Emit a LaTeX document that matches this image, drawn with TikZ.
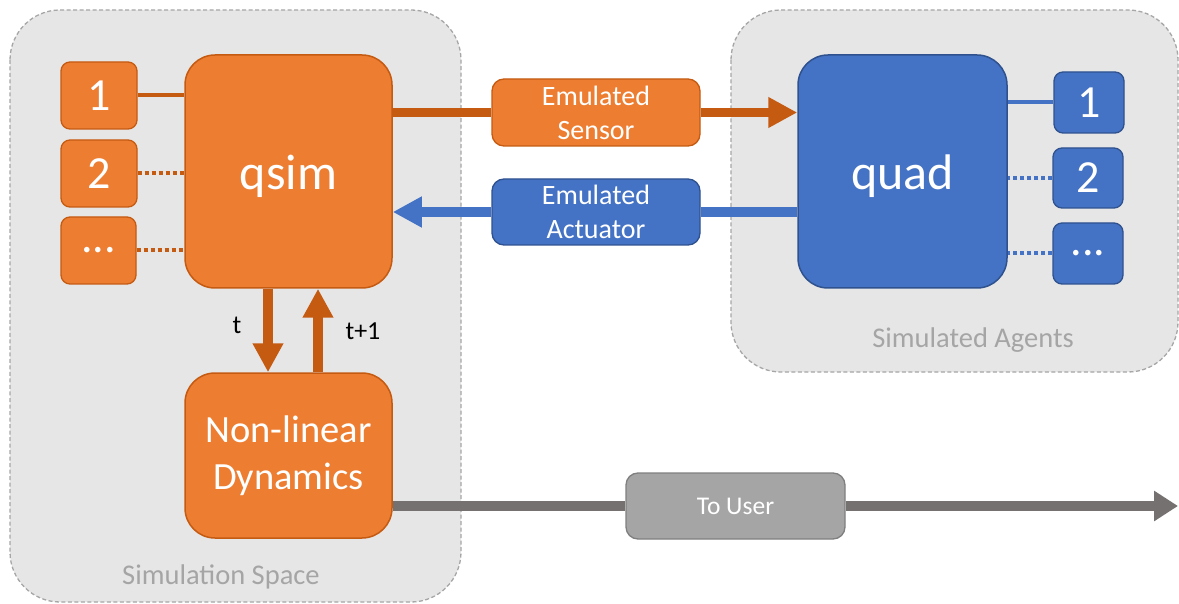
\documentclass[tikz,border=0pt]{standalone}
\usepackage{fontspec}
\setmainfont{Carlito}
\usetikzlibrary{arrows.meta,calc}

\definecolor{orfill}{HTML}{ED7D31}
\definecolor{ordark}{HTML}{C55A11}
\definecolor{blfill}{HTML}{4472C4}
\definecolor{bldark}{HTML}{2F528F}
\definecolor{grpanel}{HTML}{E6E6E6}
\definecolor{grborder}{HTML}{A6A6A6}
\definecolor{grlabel}{HTML}{A5A5A5}
\definecolor{grbox}{HTML}{A5A5A5}
\definecolor{grboxdark}{HTML}{7F7F7F}
\definecolor{grline}{HTML}{767171}

\tikzset{
  panel/.style={fill=grpanel, draw=grborder, line width=1.3pt, dash pattern=on 4pt off 2.5pt, rounded corners=50pt},
  panellabel/.style={text=grlabel, font=\fontsize{28.5}{30}\selectfont},
  bigbox/.style={rectangle, rounded corners=30pt, line width=1.5pt, text=white, font=\fontsize{50}{56}\selectfont},
  orbig/.style={bigbox, fill=orfill, draw=ordark},
  blbig/.style={bigbox, fill=blfill, draw=bldark},
  smallbox/.style={rectangle, rounded corners=9pt, line width=1.3pt, text=white, font=\fontsize{46}{50}\selectfont, inner sep=0pt},
  orsmall/.style={smallbox, fill=orfill, draw=ordark},
  blsmall/.style={smallbox, fill=blfill, draw=bldark},
  midbox/.style={rectangle, rounded corners=12pt, line width=1.3pt, text=white, align=center, inner sep=0pt, font=\fontsize{28}{34}\selectfont},
  ormid/.style={midbox, fill=orfill, draw=ordark},
  blmid/.style={midbox, fill=blfill, draw=bldark},
  grmid/.style={midbox, fill=grbox, draw=grboxdark, font=\fontsize{25.5}{30}\selectfont},
  solidlink/.style={line width=4pt},
  dotlink/.style={line width=4pt, dash pattern=on 4pt off 3pt},
  fatarrow/.style={line width=9.5pt, -{Triangle[length=29pt,width=29pt]}},
  steplabel/.style={text=black, font=\fontsize{26}{30}\selectfont},
}

\begin{document}
\begin{tikzpicture}[x=1pt,y=-1pt]
\useasboundingbox (0,0) rectangle (1179,604);

% containers
\draw[panel] (10,10) rectangle (461,602);
\draw[panel] (731,10) rectangle (1178,372);
\node[panellabel] (simspace) at (221,577) {Simulation Space};
\node[panellabel] (simagents) at (973,340) {Simulated Agents};

% simulator side
\node[orbig, minimum width=207pt, minimum height=233pt, text height=40pt, text depth=3pt] (qsim) at (288.5,171.5) {qsim};
\node[orbig, minimum width=207pt, minimum height=165pt, align=center,
      font=\fontsize{38.5}{47}\selectfont] (nld) at (288.5,455.5) {Non-linear\\Dynamics};
\node[orsmall, minimum width=76pt, minimum height=67pt] (l1) at (99,95.5) {1};
\node[orsmall, minimum width=76pt, minimum height=67pt] (l2) at (99,173.5) {2};
\node[orsmall, minimum width=75pt, minimum height=67pt] (l3) at (98.5,250.5) {...};

% agent side
\node[blbig, minimum width=209pt, minimum height=233pt, text height=40pt, text depth=3pt] (quad) at (902.5,171.5) {quad};
\node[blsmall, minimum width=70pt, minimum height=61pt] (r1) at (1089,102.5) {1};
\node[blsmall, minimum width=70pt, minimum height=60pt] (r2) at (1088,178) {2};
\node[blsmall, minimum width=70pt, minimum height=61pt] (r3) at (1088,253.5) {...};

% exchanged signals
\node[ormid, minimum width=208pt, minimum height=67pt] (sensor) at (596,112.5) {Emulated\\Sensor};
\node[blmid, minimum width=208pt, minimum height=66pt] (actuator) at (596,212) {Emulated\\Actuator};
\node[grmid, minimum width=219pt, minimum height=66pt] (touser) at (735.5,506) {To User};
\coordinate (userend) at (1178,506);

% links to the numbered units
\draw[solidlink, ordark] (l1.east) -- (l1.east -| qsim.west);
\draw[dotlink, ordark] (l2.east) -- (l2.east -| qsim.west);
\draw[dotlink, ordark] (l3.east) -- (l3.east -| qsim.west);
\draw[solidlink, blfill] (r1.west) -- (r1.west -| quad.east);
\draw[dotlink, blfill] (r2.west) -- (r2.west -| quad.east);
\draw[dotlink, blfill] (r3.west) -- (r3.west -| quad.east);

% sensor path
\draw[line width=9.5pt, ordark] (qsim.east |- sensor.west) -- (sensor.west);
\draw[fatarrow, ordark] (sensor.east) -- (sensor.east -| quad.west);

% actuator path
\draw[line width=9.5pt, blfill] (quad.west |- actuator.east) -- (actuator.east);
\draw[fatarrow, blfill] (actuator.west) -- (actuator.west -| qsim.east);

% time stepping loop
\draw[fatarrow, ordark] ([xshift=-20.5pt]qsim.south) -- ([xshift=-20.5pt]nld.north);
\draw[fatarrow, ordark] ([xshift=29.5pt]nld.north) -- ([xshift=29.5pt]qsim.south);
\node[steplabel] (tlab) at (237,325) {t};
\node[steplabel] (t1lab) at (363,331) {t+1};

% output to user
\draw[line width=9.5pt, grline] (nld.east |- touser.west) -- (touser.west);
\draw[line width=9.5pt, grline, -{Triangle[length=24pt,width=29pt]}] (touser.east) -- (userend);
\end{tikzpicture}
\end{document}
